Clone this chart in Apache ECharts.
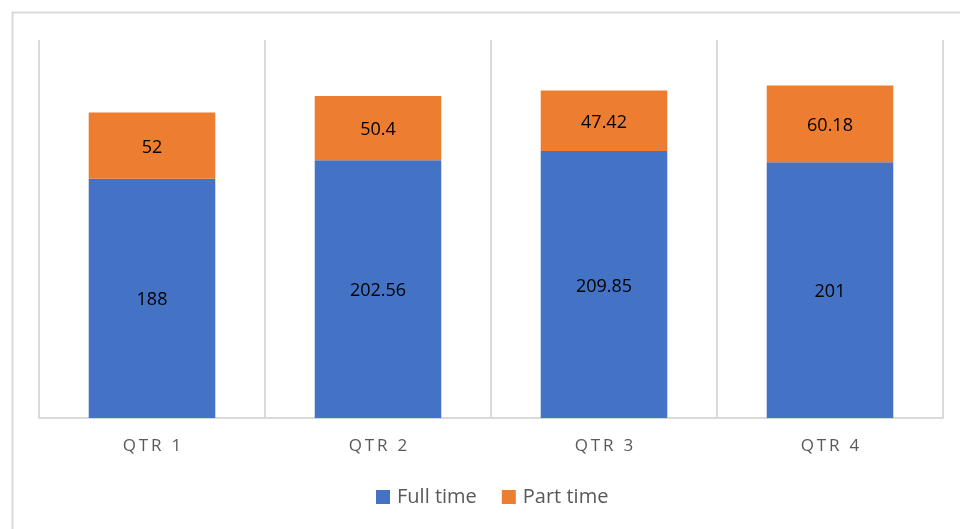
<!DOCTYPE html>
<html><head><meta charset="utf-8">
<script src="https://cdn.jsdelivr.net/npm/echarts@6/dist/echarts.min.js"></script>
<style>html,body{margin:0;padding:0;background:#fff}#c{width:960px;height:529px}</style>
</head><body><div id="c"></div>
<script>
const categories = ['QTR 1', 'QTR 2', 'QTR 3', 'QTR 4'];
const fullTime = [188, 202.56, 209.85, 201];
const partTime = [52, 50.4, 47.42, 60.18];
const seriesNames = ['Full time', 'Part time'];

const chart = echarts.init(document.getElementById('c'), null, {renderer: 'canvas'});
const font = '"Open Sans", "Liberation Sans", sans-serif';
const lbl = {show: true, position: 'inside', color: '#000', fontSize: 18, fontFamily: font, offset: [0, 2]};
chart.setOption({
  animation: false,
  textStyle: {fontFamily: font},
  graphic: [{type: 'rect', left: 10, top: 10, shape: {width: 960, height: 540}, style: {fill: 'none', stroke: '#d9d9d9', lineWidth: 2}, silent: true}],
  grid: {left: 39, right: 17, top: 40, bottom: 111},
  legend: {bottom: 22, left: 376, padding: 0, itemWidth: 14, itemHeight: 14, itemGap: 25, icon: 'rect',
    textStyle: {color: '#595959', fontSize: 20, fontFamily: font, padding: [0, 0, 0, 2]}, data: seriesNames},
  xAxis: {type: 'category', data: categories,
    axisLine: {lineStyle: {color: '#d9d9d9', width: 2}}, axisTick: {show: false},
    splitLine: {show: true, lineStyle: {color: '#d9d9d9', width: 2}},
    axisLabel: {color: '#595959', fontSize: 17, margin: 20, fontFamily: font,
      formatter: v => v.split('').join('\u2009')}},
  yAxis: {type: 'value', min: 0, max: 297, show: false, splitLine: {show: false}},
  series: [
    {name: seriesNames[0], type: 'bar', stack: 't', data: fullTime, barWidth: '56%', itemStyle: {color: '#4472c4'}, label: lbl},
    {name: seriesNames[1], type: 'bar', stack: 't', data: partTime, barWidth: '56%', itemStyle: {color: '#ed7d31'}, label: lbl}
  ]
});
</script></body></html>
